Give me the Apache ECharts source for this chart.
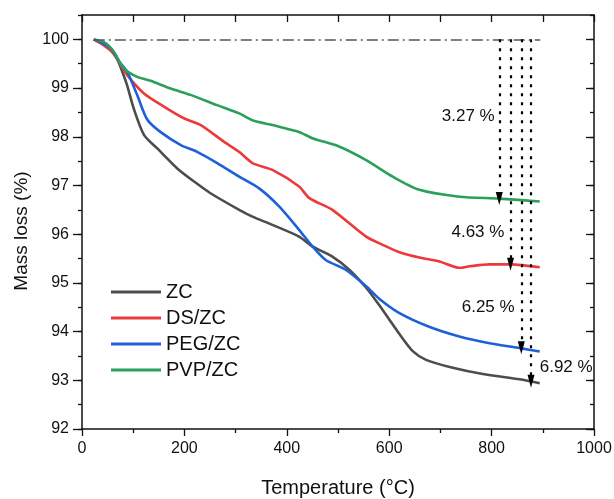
<!DOCTYPE html>
<html>
<head>
<meta charset="utf-8">
<script src="https://cdn.jsdelivr.net/npm/echarts@6/dist/echarts.min.js"></script>
<style>html,body{margin:0;padding:0;background:#fff}#c{width:614px;height:499px}</style>
</head>
<body>
<div id="c"></div>
<script>
// ---- data ----
const seriesNames = ['ZC', 'DS/ZC', 'PEG/ZC', 'PVP/ZC'];
const zcT   = [23,40,55,68,80,88,101,121,147,186,219,251,307,333,372,424,450,489,522,555,580,600,620,646,672,720,783,855,894];
const zcM   = [100,99.92,99.79,99.61,99.3,99.06,98.58,98.04,97.76,97.35,97.08,96.84,96.5,96.36,96.19,95.95,95.75,95.54,95.27,94.9,94.55,94.25,93.95,93.6,93.42,93.27,93.13,93.02,92.94];
const dsT   = [23,42,59,68,88,121,160,199,232,277,307,333,372,424,444,489,555,594,620,659,698,737,757,796,838,894];
const dsM   = [100,99.88,99.74,99.61,99.27,98.89,98.62,98.38,98.24,97.9,97.69,97.46,97.32,96.98,96.74,96.5,95.95,95.75,95.63,95.52,95.44,95.31,95.34,95.38,95.38,95.32];
const pegT  = [23,56,72,88,108,127,153,193,225,264,307,346,385,424,450,476,515,555,581,620,678,737,796,855,894];
const pegM  = [100,99.82,99.55,99.34,98.85,98.36,98.1,97.83,97.69,97.46,97.18,96.94,96.57,96.09,95.75,95.47,95.27,94.93,94.67,94.38,94.1,93.9,93.76,93.66,93.59];
const pvpT  = [23,45,62,82,108,134,173,212,264,307,333,372,424,450,502,555,607,659,737,815,894];
const pvpM  = [100,99.93,99.75,99.4,99.23,99.15,98.99,98.86,98.65,98.48,98.34,98.24,98.1,97.97,97.8,97.52,97.18,96.91,96.77,96.73,96.67];
// reference line and arrows
const refLineT = [23, 895];
const refLineM = 100;
const arrowT   = [877, 837, 858, 815];      // per series order ZC, DS, PEG, PVP
const arrowEnd = [92.98, 95.38, 93.67, 96.73];
const noteText = ['6.92 %', '4.63 %', '6.25 %', '3.27 %'];
const noteT    = [894, 825, 845, 806];
const noteM    = [93.26, 96.03, 94.49, 98.41];
const notePos  = ['right', 'left', 'left', 'left'];
const xTicks = [0, 200, 400, 600, 800, 1000];
const yTicks = [92, 93, 94, 95, 96, 97, 98, 99, 100];

const colors = ['#4d4d4d', '#ec3a3c', '#1f60d8', '#2aa05a'];
const FONT = 'Liberation Sans, Arial, Helvetica, sans-serif';
const allT = [zcT, dsT, pegT, pvpT];
const allM = [zcM, dsM, pegM, pvpM];

const chart = echarts.init(document.getElementById('c'));
const axisLine = { show: true, lineStyle: { color: '#111', width: 1.5 } };

const series = seriesNames.map((name, i) => {
  const s = {
    name, type: 'line', xAxisIndex: 0, yAxisIndex: 0,
    data: allT[i].map((t, k) => [t, allM[i][k]]),
    showSymbol: false, symbol: 'none', smooth: 0.25,
    lineStyle: { color: colors[i], width: 2.6 },
    itemStyle: { color: colors[i] },
    z: 3,
    markLine: {
      silent: true, animation: false,
      symbol: ['none', 'none'],
      label: { show: false },
      lineStyle: { color: '#000', width: 2.2, type: [3, 6] },
      data: [[
        { coord: [arrowT[i], refLineM], symbol: 'none' },
        { coord: [arrowT[i], arrowEnd[i]], symbol: 'triangle', symbolSize: [7, 13] }
      ]]
    },
    markPoint: {
      silent: true, animation: false,
      symbol: 'circle', symbolSize: 0,
      data: [{
        coord: [noteT[i], noteM[i]],
        label: {
          show: true, position: notePos[i], distance: 0,
          formatter: noteText[i], color: '#111', fontSize: 17, fontFamily: FONT
        }
      }]
    }
  };
  if (i === 0) {
    s.markLine.data.push([
      { coord: [refLineT[0], refLineM], symbol: 'none', lineStyle: { color: '#555', width: 1.6, type: [11, 4, 2, 4] } },
      { coord: [refLineT[1], refLineM], symbol: 'none' }
    ]);
  }
  return s;
});

const yBase = { type: 'value', min: 92, max: 100.5, interval: 0.5, gridIndex: 0, splitLine: { show: false } };

chart.setOption({
  animation: false,
  backgroundColor: '#fff',
  textStyle: { fontFamily: FONT },
  grid: { left: 82, right: 20, top: 15, bottom: 70, containLabel: false, outerBoundsMode: 'none' },
  legend: {
    orient: 'vertical', left: 106, top: 277,
    itemWidth: 50, itemHeight: 3, itemGap: 6, icon: 'rect',
    textStyle: { fontSize: 20, color: '#111', fontFamily: FONT, lineHeight: 20 },
    data: seriesNames
  },
  xAxis: [
    {
      type: 'value', min: 0, max: 1000, interval: 200, position: 'bottom',
      name: 'Temperature (°C)', nameLocation: 'middle', nameGap: 49,
      nameTextStyle: { fontSize: 20, color: '#111', fontFamily: FONT },
      axisLine, splitLine: { show: false },
      axisTick: { show: true, inside: false, length: 7, lineStyle: { color: '#111', width: 1.3 } },
      minorTick: { show: true, splitNumber: 2, length: 4, lineStyle: { color: '#111', width: 1.3 } },
      axisLabel: { fontSize: 16, color: '#111', margin: 12, fontFamily: FONT, customValues: xTicks, formatter: v => String(v) }
    },
    {
      type: 'value', min: 0, max: 1000, interval: 100, position: 'top',
      axisLine, splitLine: { show: false },
      axisTick: { show: true, inside: true, length: 7, lineStyle: { color: '#111', width: 1.3 } },
      axisLabel: { show: false }
    }
  ],
  yAxis: [
    Object.assign({}, yBase, {
      position: 'left',
      name: 'Mass loss (%)', nameLocation: 'middle', nameGap: 45, nameRotate: 90,
      nameTextStyle: { fontSize: 19, color: '#111', fontFamily: FONT, padding: [0, 0, 0, -18] },
      axisLine,
      axisTick: { show: true, inside: false, length: 4, lineStyle: { color: '#111', width: 1.3 } },
      axisLabel: { fontSize: 16, color: '#111', margin: 13, fontFamily: FONT, customValues: yTicks, formatter: v => String(v) }
    }),
    Object.assign({}, yBase, {
      position: 'left',
      axisLine: { show: false },
      axisTick: { show: true, inside: false, length: 9, customValues: yTicks, lineStyle: { color: '#111', width: 1.3 } },
      axisLabel: { show: false }
    }),
    Object.assign({}, yBase, {
      position: 'right',
      axisLine,
      axisTick: { show: true, inside: true, length: 4, lineStyle: { color: '#111', width: 1.3 } },
      axisLabel: { show: false }
    }),
    Object.assign({}, yBase, {
      position: 'right',
      axisLine: { show: false },
      axisTick: { show: true, inside: true, length: 8, customValues: yTicks, lineStyle: { color: '#111', width: 1.3 } },
      axisLabel: { show: false }
    })
  ],
  series
});
</script>
</body>
</html>
